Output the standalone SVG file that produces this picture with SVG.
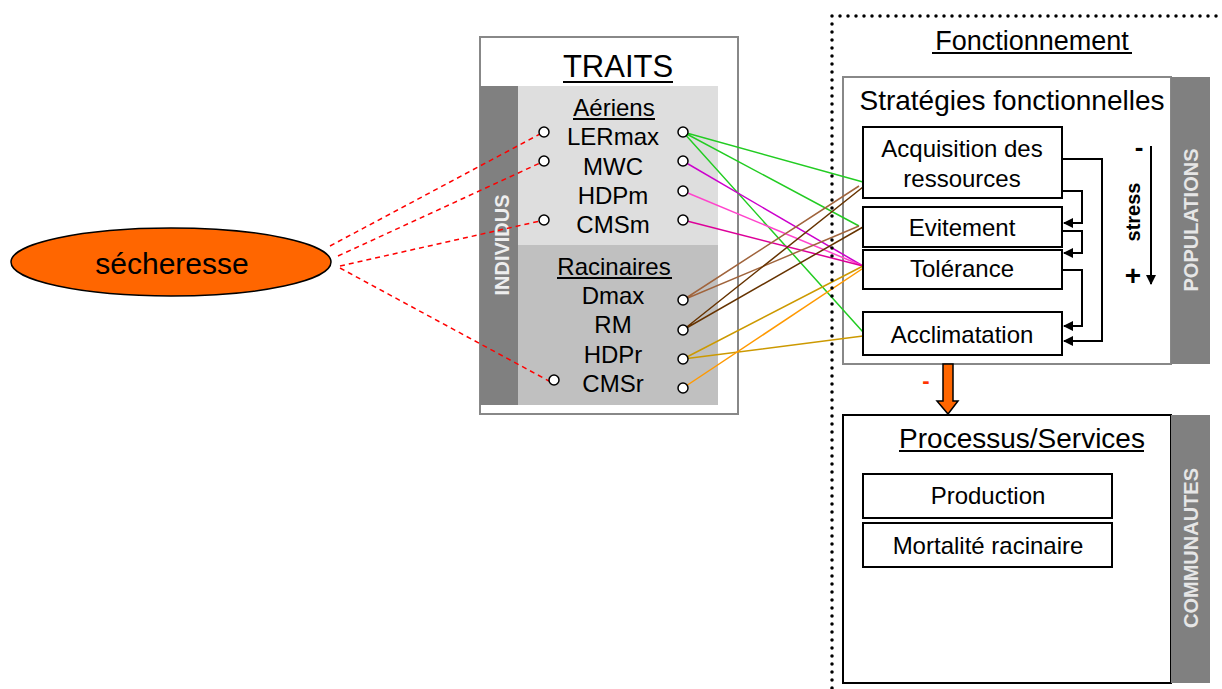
<svg xmlns="http://www.w3.org/2000/svg" width="1222" height="689" viewBox="0 0 1222 689">
<defs>
<style>
text{font-family:"Liberation Sans",Arial,sans-serif;fill:#000;}
.lbl{font-size:24px;text-anchor:middle;}
.side{font-size:20px;font-weight:bold;fill:#fff;text-anchor:middle;}
.box{fill:#fff;stroke:#000;stroke-width:2;}
.dot{fill:#fff;stroke:#000;stroke-width:1.5;}
.red{stroke:#ff0000;stroke-width:1.5;stroke-dasharray:5 4;fill:none;}
.ul{stroke:#000;stroke-width:2;}
.flow{fill:none;stroke:#000;stroke-width:2;}
.c{stroke-width:1.5;fill:none;}
</style>
<marker id="ah" viewBox="0 0 10 10" refX="9" refY="5" markerWidth="5" markerHeight="5" orient="auto" markerUnits="strokeWidth">
<path d="M0,0 L10,5 L0,10 z" fill="#000"/>
</marker>
</defs>
<rect width="1222" height="689" fill="#fff"/>

<g id="secheresse">
<ellipse cx="171" cy="262" rx="160" ry="34" fill="#ff6600" stroke="#000" stroke-width="1.5"/>
<text x="172" y="274" style="font-size:30px;text-anchor:middle">sécheresse</text>
</g>

<g id="traits">
<rect x="480" y="37" width="258" height="377" fill="#fff" stroke="#888" stroke-width="2"/>
<rect x="518" y="86" width="200" height="159" fill="#dedede"/>
<rect x="518" y="245" width="200" height="160" fill="#c0c0c0"/>
<rect x="480" y="86" width="38" height="319" fill="#808080"/>
<text transform="translate(509,245) rotate(-90)" class="side" style="fill:#eeeeee">INDIVIDUS</text>
<text x="618" y="77" style="font-size:31px;text-anchor:middle">TRAITS</text>
<line class="ul" x1="563" y1="82" x2="673" y2="82" stroke-width="2.5"/>
<text x="614" y="116" class="lbl">Aériens</text>
<line class="ul" x1="573" y1="119" x2="655" y2="119" stroke-width="1.5"/>
<text x="613" y="145" class="lbl">LERmax</text>
<text x="613" y="175" class="lbl">MWC</text>
<text x="613" y="204" class="lbl">HDPm</text>
<text x="613" y="233" class="lbl">CMSm</text>
<text x="614" y="275" class="lbl">Racinaires</text>
<line class="ul" x1="557" y1="278" x2="672" y2="278" stroke-width="1.5"/>
<text x="613" y="304" class="lbl">Dmax</text>
<text x="613" y="333" class="lbl">RM</text>
<text x="613" y="363" class="lbl">HDPr</text>
<text x="613" y="392" class="lbl">CMSr</text>
</g>

<g id="fonctionnement">
<text x="1032" y="50" style="font-size:27px;text-anchor:middle">Fonctionnement</text>
<line class="ul" x1="932" y1="53" x2="1132" y2="53"/>
</g>

<g id="strategies">
<rect x="843" y="77" width="328" height="287" fill="#fff" stroke="#888" stroke-width="2"/>
<rect x="1171" y="77" width="39" height="287" fill="#808080"/>
<text transform="translate(1198,220) rotate(-90)" class="side" style="fill:#e6e6e6">POPULATIONS</text>
<text x="1012" y="110" style="font-size:28px;text-anchor:middle">Stratégies fonctionnelles</text>
</g>

<g id="connectors">
<path class="red" d="M330,246 L540,134"/>
<path class="red" d="M338,256 L540,163"/>
<path class="red" d="M340,266 L540,221"/>
<path class="red" d="M340,268 L549,381"/>
<path class="c" stroke="#22cc22" d="M683,132 L863,182 M683,132 L859,226 M683,132 L863,332"/>
<path class="c" stroke="#cc00cc" d="M683,161 L863,266"/>
<path class="c" stroke="#ff44cc" d="M683,191 L863,266"/>
<path class="c" stroke="#dd0099" d="M683,220 L863,266"/>
<path class="c" stroke="#a0643c" d="M683,300 L859,186 M683,300 L859,226"/>
<path class="c" stroke="#663300" d="M683,330 L863,187 M683,330 L863,227"/>
<path class="c" stroke="#cc9900" d="M683,359 L863,266 M683,359 L863,336"/>
<path class="c" stroke="#ff9900" d="M683,388 L868,265"/>
</g>

<!-- dotted frame -->
<path d="M832,16 H1222 M832,16 V689" fill="none" stroke="#000" stroke-width="3.5" stroke-linecap="round" stroke-dasharray="0 8"/>

<g id="trait-dots">
<circle class="dot" cx="544" cy="132" r="5"/>
<circle class="dot" cx="544" cy="161" r="5"/>
<circle class="dot" cx="544" cy="220" r="5"/>
<circle class="dot" cx="554" cy="380" r="5"/>
<circle class="dot" cx="683" cy="132" r="5"/>
<circle class="dot" cx="683" cy="161" r="5"/>
<circle class="dot" cx="683" cy="191" r="5"/>
<circle class="dot" cx="683" cy="220" r="5"/>
<circle class="dot" cx="683" cy="300" r="5"/>
<circle class="dot" cx="683" cy="330" r="5"/>
<circle class="dot" cx="683" cy="359" r="5"/>
<circle class="dot" cx="683" cy="388" r="5"/>
</g>

<g id="acquisition">
<rect class="box" x="863" y="127" width="199" height="71"/>
<text x="962" y="157" class="lbl">Acquisition des</text>
<text x="962" y="187" class="lbl">ressources</text>
</g>
<g id="evitement">
<rect class="box" x="863" y="207" width="199" height="40"/>
<text x="962" y="236" class="lbl">Evitement</text>
</g>
<g id="tolerance">
<rect class="box" x="863" y="250" width="199" height="39"/>
<text x="962" y="277" class="lbl">Tolérance</text>
</g>
<g id="acclimatation">
<rect class="box" x="863" y="312" width="199" height="43"/>
<text x="962" y="343" class="lbl">Acclimatation</text>
</g>

<g id="flows">
<path class="flow" d="M1062,159 H1102 V341 H1064" marker-end="url(#ah)"/>
<path class="flow" d="M1062,191 H1082 V223 H1064" marker-end="url(#ah)"/>
<path class="flow" d="M1062,231 H1082 V253 H1064" marker-end="url(#ah)"/>
<path class="flow" d="M1062,270 H1082 V326 H1064" marker-end="url(#ah)"/>
</g>

<g id="stress">
<path class="flow" d="M1151,146 V284" marker-end="url(#ah)"/>
<text x="1139" y="156" style="font-size:26px;text-anchor:middle;font-weight:bold">-</text>
<text x="1133" y="285" style="font-size:28px;text-anchor:middle;font-weight:bold">+</text>
<text transform="translate(1140,212) rotate(-90)" style="font-size:20px;font-weight:bold;text-anchor:middle">stress</text>
</g>

<g id="impact">
<path d="M943,364 H953 V401 H958 L948,414 L937,401 H943 Z" fill="#ff6600" stroke="#000" stroke-width="1.5"/>
<text x="926" y="388" style="font-size:22px;fill:#ff3300;text-anchor:middle;font-weight:bold">-</text>
</g>

<g id="processus">
<rect class="box" x="843" y="415" width="328" height="268"/>
<rect x="1171" y="415" width="39" height="268" fill="#808080"/>
<text transform="translate(1198,548) rotate(-90)" class="side" style="fill:#e6e6e6">COMMUNAUTES</text>
<text x="1022" y="448" style="font-size:28px;text-anchor:middle">Processus/Services</text>
<line class="ul" x1="899" y1="451" x2="1144" y2="451"/>
</g>
<g id="production">
<rect class="box" x="863" y="474" width="249" height="44"/>
<text x="988" y="504" class="lbl">Production</text>
</g>
<g id="mortalite">
<rect class="box" x="863" y="523" width="249" height="44"/>
<text x="988" y="554" class="lbl">Mortalité racinaire</text>
</g>
</svg>
